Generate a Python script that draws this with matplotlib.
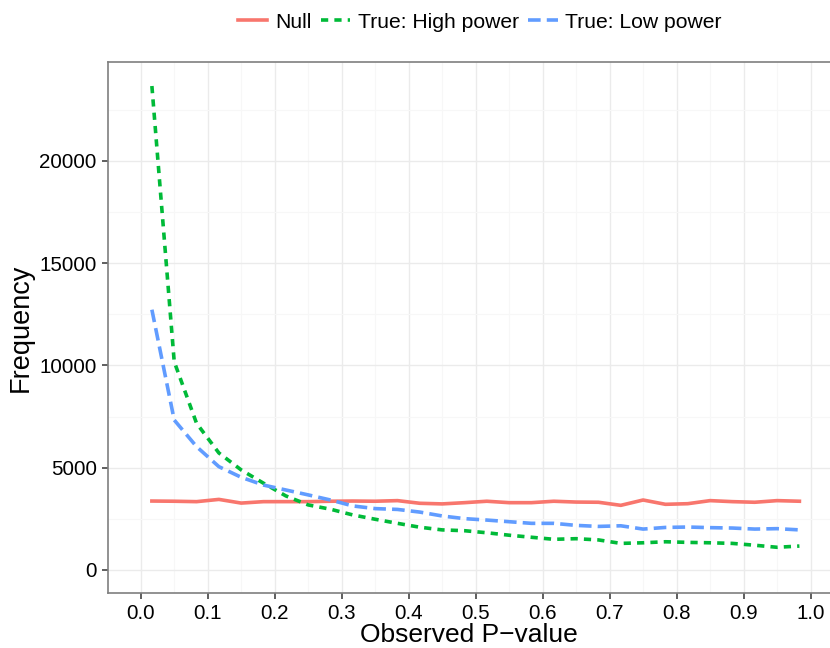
import numpy as np
import matplotlib
matplotlib.use('Agg')
import matplotlib.pyplot as plt

# bin centres of the p-value histogram (30 bins on [0, 1])
p_mid = (np.arange(30) + 0.5) / 30

# frequencies
null_freq = [3370, 3360, 3340, 3450, 3270, 3340, 3340, 3340, 3360, 3370,
             3360, 3390, 3260, 3230, 3290, 3360, 3290, 3290, 3360, 3320,
             3310, 3160, 3420, 3210, 3240, 3390, 3340, 3310, 3390, 3360]
high_freq = [23650, 10180, 7170, 5720, 4890, 4240, 3620, 3180, 2970, 2690,
             2480, 2280, 2090, 1960, 1920, 1820, 1700, 1600, 1500, 1530,
             1470, 1300, 1330, 1380, 1350, 1330, 1300, 1210, 1110, 1170]
low_freq = [12720, 7330, 6030, 5050, 4530, 4150, 3910, 3670, 3420, 3130,
            3000, 2960, 2830, 2640, 2510, 2440, 2360, 2280, 2280, 2180,
            2130, 2160, 2000, 2080, 2100, 2070, 2050, 2000, 2020, 1960]

labels = ['Null', 'True: High power', 'True: Low power']
colors = ['#F8766D', '#00BA38', '#619CFF']

plt.rcParams['font.family'] = ['Liberation Sans', 'DejaVu Sans']

fig = plt.figure(figsize=(8.3, 6.48), dpi=100)
ax = fig.add_axes([0.130, 0.0844, 0.870, 0.8199])

lw = 2.6
ax.plot(p_mid, null_freq, color=colors[0], lw=lw, label=labels[0])
ax.plot(p_mid, high_freq, color=colors[1], lw=lw, label=labels[1],
        dashes=(2.0, 1.7))
ax.plot(p_mid, low_freq, color=colors[2], lw=lw, label=labels[2],
        dashes=(3.5, 1.7))

ax.set_xlim(-0.049, 1.029)
ax.set_ylim(-1139, 24823)

ax.set_xticks(np.arange(0, 1.01, 0.1))
ax.set_xticklabels(['%.1f' % v for v in np.arange(0, 1.01, 0.1)])
ax.set_xticks(np.arange(0.05, 1.05, 0.1), minor=True)
ax.set_yticks([0, 5000, 10000, 15000, 20000])
ax.set_yticks(np.arange(2500, 25000, 5000), minor=True)

ax.grid(which='major', color='#EBEBEB', lw=1.0)
ax.grid(which='minor', color='#F7F7F7', lw=0.8)
ax.set_axisbelow(True)

for side in ['left', 'bottom', 'top']:
    ax.spines[side].set_color('#7F7F7F')
    ax.spines[side].set_linewidth(1.2)
ax.spines['right'].set_visible(False)

ax.tick_params(which='major', direction='out', length=4, width=1.1,
               color='#333333', labelsize=14.8, labelcolor='black', pad=4)
ax.tick_params(which='minor', length=0)

ax.set_xlabel('Observed P\u2212value', fontsize=19, labelpad=0)
ax.set_ylabel('Frequency', fontsize=19.5, labelpad=4)

fig.legend(loc='center', bbox_to_anchor=(0.578, 0.966), ncol=3,
           frameon=False, fontsize=15.2, handlelength=1.4,
           handletextpad=0.35, columnspacing=0.45)

fig.savefig('out.png', dpi=100)
